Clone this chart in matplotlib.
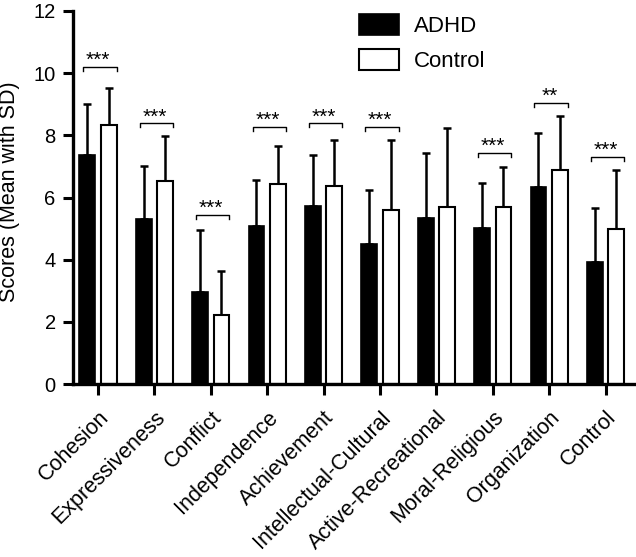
import matplotlib
matplotlib.use("Agg")
import matplotlib.pyplot as plt
import numpy as np

plt.rcParams['font.family'] = ['Liberation Sans', 'DejaVu Sans']

categories = ["Cohesion", "Expressiveness", "Conflict", "Independence", "Achievement",
              "Intellectual-Cultural", "Active-Recreational", "Moral-Religious",
              "Organization", "Control"]
adhd_mean = [7.36, 5.32, 2.96, 5.08, 5.74, 4.49, 5.34, 5.01, 6.34, 3.93]
adhd_sd = [1.65, 1.70, 1.99, 1.48, 1.64, 1.74, 2.10, 1.46, 1.73, 1.72]
ctrl_mean = [8.33, 6.52, 2.21, 6.42, 6.38, 5.60, 5.68, 5.68, 6.90, 5.00]
ctrl_sd = [1.19, 1.46, 1.42, 1.24, 1.47, 2.25, 2.56, 1.31, 1.71, 1.88]
sig_labels = ["***", "***", "***", "***", "***", "***", "", "***", "**", "***"]
sig_y = [10.21, 8.39, 5.44, 8.28, 8.39, 8.28, None, 7.44, 9.05, 7.31]

fig = plt.figure(figsize=(6.36, 5.57), dpi=100)
L = 73 / 636
ax = fig.add_axes([L, 1 - 384/557, 1 - L, (384 - 11)/557])

x = np.arange(len(categories))
w = 0.28
off = 0.19
ax.bar(x - off, adhd_mean, w, color='black', edgecolor='black', linewidth=1.2, label='ADHD', zorder=2)
ax.bar(x + off, ctrl_mean, w, color='white', edgecolor='black', linewidth=1.5, label='Control', zorder=2)
ax.errorbar(x - off, adhd_mean, yerr=[np.zeros(len(x)), adhd_sd], fmt='none', ecolor='black',
            elinewidth=1.8, capsize=3, capthick=1.8, zorder=1)
ax.errorbar(x + off, ctrl_mean, yerr=[np.zeros(len(x)), ctrl_sd], fmt='none', ecolor='black',
            elinewidth=1.8, capsize=3, capthick=1.8, zorder=1)

for i, (lab, yy) in enumerate(zip(sig_labels, sig_y)):
    if not lab:
        continue
    x0 = i - off - 0.07
    x1 = i + off + 0.14
    ax.plot([x0, x0, x1, x1], [yy - 0.13, yy, yy, yy - 0.13], color='black', lw=1.0, clip_on=False)
    ax.text((x0 + x1) / 2 - 0.03, yy + 0.02, lab, ha='center', va='baseline', fontsize=15)

ax.set_xlim(-0.443, 9.54)
ax.set_ylim(0, 12)
ax.set_yticks(np.arange(0, 13, 2))
ax.set_xticks(x)
ax.set_xticklabels(categories, rotation=45, ha='right', rotation_mode='anchor', fontsize=15.5)
ax.tick_params(axis='y', labelsize=14.5, width=2.2, length=7.5, direction='out', pad=5)
ax.tick_params(axis='x', width=2.2, length=8, direction='out', pad=8.5)
for s in ['top', 'right']:
    ax.spines[s].set_visible(False)
for s in ['left', 'bottom']:
    ax.spines[s].set_linewidth(2.4)
ax.set_ylabel("Scores (Mean with SD)", fontsize=15.5)
ax.yaxis.set_label_coords(-53 / 563, 0.515)

leg = ax.legend(loc='upper left', bbox_to_anchor=(343/636, 1 + 2/557), bbox_transform=fig.transFigure,
                frameon=False, fontsize=16, handlelength=1.8, handleheight=1.1, labelspacing=0.55,
                handletextpad=0.7, borderpad=0.2)

fig.savefig("out.png", dpi=100)
